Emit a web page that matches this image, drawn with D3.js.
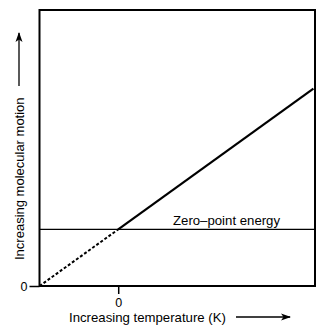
<!DOCTYPE html>
<html><head><meta charset="utf-8">
<script src="https://cdn.jsdelivr.net/npm/d3@7"></script>
<style>body{margin:0;background:#fff;}svg{display:block;}</style>
</head><body>
<script>
// Data
const xDomain = [-1, 2.5];
const yDomain = [0, 10];
const dashedSeg = [{x: -1, y: 0}, {x: 0, y: 2.05}];
const solidSeg = [{x: 0, y: 2.05}, {x: 2.48, y: 7.15}];
const zeroPointEnergy = 2.05;
const xTicks = [0];
const yTicks = [0];
const xLabel = "Increasing temperature (K)";
const yLabel = "Increasing molecular motion";
const zpLabel = "Zero\u2013point energy";

const W = 330, H = 330;
const m = {left: 39.5, right: 15, top: 10, bottom: 44};
const svg = d3.select("body").append("svg").attr("width", W).attr("height", H);
const x = d3.scaleLinear().domain(xDomain).range([m.left, W - m.right]);
const y = d3.scaleLinear().domain(yDomain).range([H - m.bottom, m.top]);
const font = "'Liberation Sans', Arial, sans-serif";

svg.append("defs").append("marker").attr("id","ah").attr("viewBox","0 0 10 10")
  .attr("refX",9).attr("refY",5).attr("markerWidth",10).attr("markerHeight",10)
  .attr("markerUnits","userSpaceOnUse").attr("orient","auto")
  .append("path").attr("d","M0,1.5 L10,5 L0,8.5 L2.5,5 Z").attr("fill","#000");

// zero point energy line
svg.append("line").attr("x1", x(xDomain[0])).attr("x2", x(xDomain[1]))
  .attr("y1", y(zeroPointEnergy)).attr("y2", y(zeroPointEnergy))
  .attr("stroke","#000").attr("stroke-width",1.2);

const line = d3.line().x(d => x(d.x)).y(d => y(d.y));
svg.append("path").datum(dashedSeg).attr("d", line).attr("fill","none")
  .attr("stroke","#000").attr("stroke-width",2).attr("stroke-dasharray","3,2");
svg.append("path").datum(solidSeg).attr("d", line).attr("fill","none")
  .attr("stroke","#000").attr("stroke-width",2.2);

// box
svg.append("rect").attr("x", x(xDomain[0])).attr("y", y(yDomain[1]))
  .attr("width", x(xDomain[1]) - x(xDomain[0])).attr("height", y(yDomain[0]) - y(yDomain[1]))
  .attr("fill","none").attr("stroke","#000").attr("stroke-width",2);

// axes
const xAxis = svg.append("g").attr("transform", `translate(0,${y(yDomain[0])})`)
  .call(d3.axisBottom(x).tickValues(xTicks).tickSize(8).tickPadding(4).tickFormat(d3.format("d")));
const yAxis = svg.append("g").attr("transform", `translate(${x(xDomain[0])},0)`)
  .call(d3.axisLeft(y).tickValues(yTicks).tickSize(10).tickPadding(2).tickFormat(d3.format("d")));
[xAxis, yAxis].forEach(g => {
  g.select(".domain").remove();
  g.selectAll("line").attr("stroke","#000").attr("stroke-width",1.5);
  g.selectAll("text").attr("font-family", font).attr("font-size", 12.5).attr("fill","#000");
});

// labels
svg.append("text").attr("x", 173).attr("y", y(zeroPointEnergy) - 4)
  .attr("font-family", font).attr("font-size", 13.2).text(zpLabel);

svg.append("text").attr("x", 69).attr("y", 322)
  .attr("font-family", font).attr("font-size", 13.2).text(xLabel);
svg.append("line").attr("x1", 236).attr("x2", 290).attr("y1", 317).attr("y2", 317)
  .attr("stroke","#000").attr("stroke-width",1.3).attr("marker-end","url(#ah)");

svg.append("text").attr("transform","translate(23.5,260) rotate(-90)")
  .attr("font-family", font).attr("font-size", 13).text(yLabel);
svg.append("line").attr("x1", 19).attr("x2", 19).attr("y1", 86).attr("y2", 33)
  .attr("stroke","#000").attr("stroke-width",1.3).attr("marker-end","url(#ah)");
</script>
</body></html>
